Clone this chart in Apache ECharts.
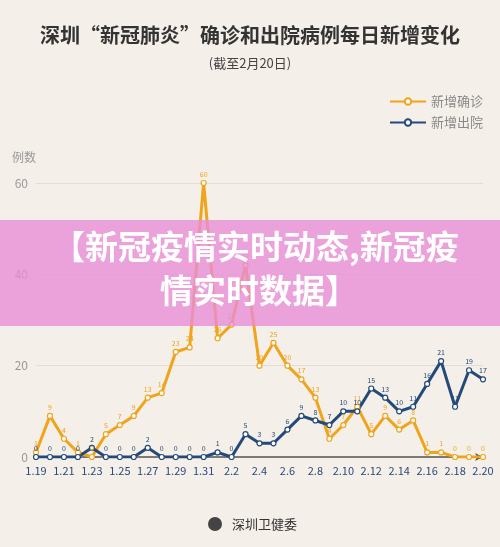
<!DOCTYPE html>
<html><head><meta charset="utf-8">
<script src="https://cdn.jsdelivr.net/npm/echarts@6/dist/echarts.min.js"></script>
<style>html,body{margin:0;padding:0;background:#f4efe8}#c{width:500px;height:547px}</style>
</head><body><div id="c"></div>
<script>
const categories = ['1.19','1.20','1.21','1.22','1.23','1.24','1.25','1.26','1.27','1.28','1.29','1.30','1.31','2.1','2.2','2.3','2.4','2.5','2.6','2.7','2.8','2.9','2.10','2.11','2.12','2.13','2.14','2.15','2.16','2.17','2.18','2.19','2.20'];
const confirmed = [1,9,4,1,0,5,7,9,13,14,23,24,60,26,29,42,20,25,20,17,13,4,7,11,5,9,6,8,1,1,0,0,0];
const discharged = [0,0,0,0,2,0,0,0,2,0,0,0,0,1,0,5,3,3,6,9,8,7,10,10,15,13,10,11,16,21,11,19,17];
const yTicks = [0,20,40,60];
const chart = echarts.init(document.getElementById('c'));
const font = '"Noto Sans CJK SC", sans-serif';
function mk(name, data, color){
  return {name, type:'line', data, symbol:'circle', symbolSize:5,
    itemStyle:{color:'#fff', borderColor:color, borderWidth:1.2},
    lineStyle:{color, width:3},
    label:{show:true, position:'top', fontSize:7, color, distance:2, fontFamily:font}};
}
chart.setOption({
  backgroundColor:'#f4efe8',
  textStyle:{fontFamily:font},
  title:[{text:'深圳“新冠肺炎”确诊和出院病例每日新增变化', left:'center', top:20,
    textStyle:{fontSize:20, fontWeight:'bold', color:'#333', fontFamily:font}},
    {text:'(截至2月20日)', left:'center', top:52, textStyle:{fontSize:13, fontWeight:'normal', color:'#444', fontFamily:font}}],
  legend:{orient:'vertical', right:12, top:90, itemGap:8, itemWidth:36, itemHeight:8,
    textStyle:{fontSize:13, color:'#888'},
    data:[{name:'新增确诊', itemStyle:{color:'#fff', borderColor:'#f0a41c'}},{name:'新增出院', itemStyle:{color:'#fff', borderColor:'#244a7a'}}]},
  grid:{left:36, right:17, top:183, bottom:90},
  xAxis:{type:'category', data:categories, boundaryGap:false,
    axisLine:{lineStyle:{color:'#555', width:1.5}, symbol:['none','arrow'], symbolSize:[6,8]},
    axisTick:{show:false},
    axisLabel:{interval:1, fontSize:11, color:'#2a4a7a', margin:8}},
  yAxis:{type:'value', min:0, max:60, interval:20, name:'例数', nameLocation:'end',
    nameGap:20, nameTextStyle:{color:'#999', fontSize:12, align:'right', padding:[0,0,0,0]},
    axisLine:{show:false}, axisTick:{show:false},
    axisLabel:{fontSize:12, color:'#999', formatter:v=>yTicks.includes(v)?v:''},
    splitLine:{lineStyle:{color:'#e6ddd2'}}},
  series:[mk('新增确诊', confirmed, '#f0a41c'), mk('新增出院', discharged, '#244a7a')],
  graphic:[
    {type:'rect', left:0, top:220, shape:{width:500, height:106}, style:{fill:'rgba(232,140,215,0.78)'}, z:100},
    {type:'text', left:52, top:230, z:101, style:{text:'【新冠疫情实时动态,新冠疫', fill:'#fff', font:'bold 33px "Noto Sans CJK SC"'}},
    {type:'text', left:160, top:274, z:101, style:{text:'情实时数据】', fill:'#fff', font:'bold 33px "Noto Sans CJK SC"'}},
    {type:'circle', left:208, top:517, shape:{r:7}, style:{fill:'#444'}},
    {type:'text', left:232, top:518, style:{text:'深圳卫健委', fill:'#333', font:'13px "Noto Sans CJK SC"'}}
  ]
});
</script></body></html>
